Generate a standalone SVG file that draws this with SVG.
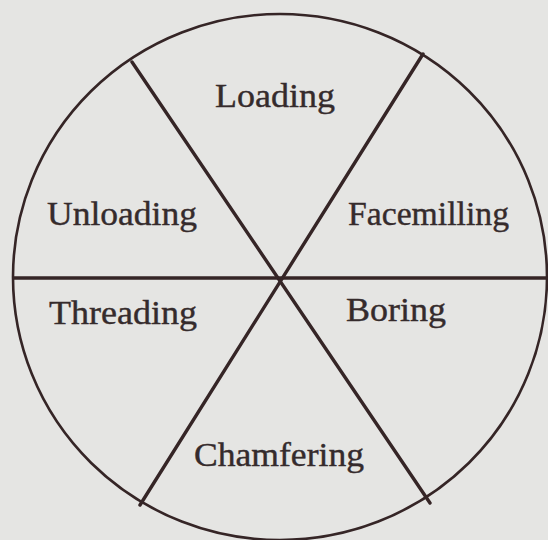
<svg xmlns="http://www.w3.org/2000/svg" width="548" height="540" viewBox="0 0 548 540">
<style>
.bg{fill:#e5e5e3}
.rim{fill:none;stroke:#352526;stroke-width:2.6}
.spoke{stroke:#352526;stroke-width:3.4;stroke-linecap:round}
.lbl{font-family:"Liberation Serif","Times New Roman",serif;font-size:34px;fill:#352b2c;stroke:#352b2c;stroke-width:0.4;lengthAdjust:spacingAndGlyphs}
</style>
<rect class="bg" x="0" y="0" width="548" height="540"/>
<g id="wheel">
<ellipse class="rim" cx="280" cy="277" rx="267" ry="263"/>
</g>
<g id="connectors">
<line class="spoke" x1="14" y1="278" x2="548" y2="278"/>
<line class="spoke" x1="132" y1="62" x2="430" y2="503"/>
<line class="spoke" x1="423" y1="54" x2="140" y2="505"/>
</g>
<g id="loading"><text class="lbl" x="215" y="107" textLength="120" lengthAdjust="spacingAndGlyphs">Loading</text></g>
<g id="facemilling"><text class="lbl" x="348" y="225" textLength="161" lengthAdjust="spacingAndGlyphs">Facemilling</text></g>
<g id="unloading"><text class="lbl" x="47" y="225" textLength="150" lengthAdjust="spacingAndGlyphs">Unloading</text></g>
<g id="threading"><text class="lbl" x="49" y="324" textLength="148" lengthAdjust="spacingAndGlyphs">Threading</text></g>
<g id="boring"><text class="lbl" x="346" y="321" textLength="100" lengthAdjust="spacingAndGlyphs">Boring</text></g>
<g id="chamfering"><text class="lbl" x="194" y="466" textLength="170" lengthAdjust="spacingAndGlyphs">Chamfering</text></g>
</svg>
